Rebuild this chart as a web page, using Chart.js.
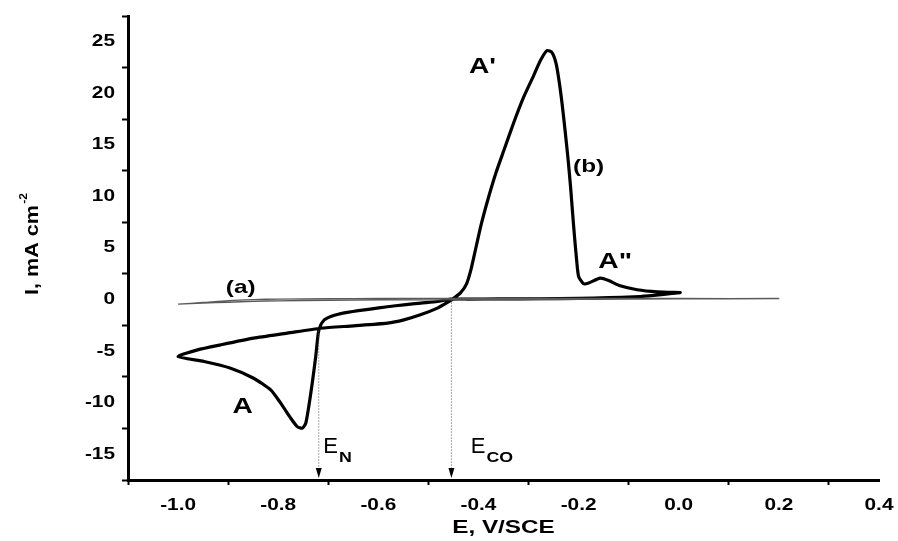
<!DOCTYPE html>
<html>
<head>
<meta charset="utf-8">
<script src="https://cdn.jsdelivr.net/npm/chart.js@4.4.1/dist/chart.umd.min.js"></script>
<style>
  html, body { margin: 0; padding: 0; background: #fff; }
  #wrap { width: 898px; height: 541px; }
</style>
</head>
<body>
<div id="wrap"><canvas id="cv" width="898" height="541"></canvas></div>
<script>
// Cyclic voltammogram: potential E (V vs SCE) and current density I (mA cm^-2)

// Curve (a): thin background scan, forward then reverse
const aE = [-1.0, -0.95, -0.9, -0.85, -0.8, -0.7, -0.6, -0.4, -0.2, 0.0, 0.2,
            0.0, -0.2, -0.4, -0.6, -0.7, -0.8, -0.85, -0.9, -0.95, -1.0];
const aI = [-0.44, -0.28, -0.1, 0.0, 0.05, 0.08, 0.1, 0.12, 0.12, 0.12, 0.1,
            0.06, 0.02, -0.01, -0.04, -0.07, -0.12, -0.17, -0.26, -0.35, -0.44];

// Curve (b): cathodic sweep from 0.0 V to -1.0 V, then anodic sweep back to 0.0 V
const bE = [0.003, -0.03, -0.06, -0.09, -0.14, -0.2, -0.28, -0.36, -0.42, -0.456,
            -0.482, -0.515, -0.549, -0.582, -0.616, -0.64, -0.662, -0.68, -0.695, -0.704,
            -0.709, -0.715, -0.72, -0.725, -0.732, -0.739, -0.745, -0.752, -0.762, -0.775,
            -0.795, -0.815, -0.849, -0.895, -0.948, -1.0,
            -0.961, -0.915, -0.849, -0.782, -0.715, -0.649, -0.582, -0.549, -0.516, -0.482,
            -0.462, -0.449, -0.436, -0.424, -0.415, -0.406, -0.395, -0.38, -0.365, -0.349,
            -0.33, -0.31, -0.29, -0.276, -0.263, -0.253, -0.245, -0.239, -0.233, -0.227,
            -0.221, -0.216, -0.212, -0.208, -0.204, -0.2, -0.19, -0.18, -0.157, -0.14,
            -0.117, -0.083, -0.043, 0.003];
const bI = [0.68, 0.5, 0.36, 0.26, 0.18, 0.12, 0.08, 0.06, 0.05, 0.04,
            -0.19, -0.34, -0.51, -0.7, -0.93, -1.08, -1.25, -1.42, -1.64, -1.85,
            -2.03, -2.45, -3.26, -5.5, -8.1, -10.4, -12.0, -12.48, -12.32, -11.5,
            -10.05, -8.76, -7.63, -6.66, -6.01, -5.53,
            -4.88, -4.39, -3.74, -3.26, -2.78, -2.55, -2.29, -1.97, -1.48, -0.83,
            -0.28, 0.14, 0.65, 1.5, 2.9, 4.83, 7.2, 9.9, 12.3, 14.5,
            17.1, 19.6, 21.7, 23.2, 24.15, 23.95, 22.9, 21.2, 19.0, 16.4,
            13.6, 10.9, 8.4, 6.0, 3.86, 2.24, 1.53, 1.6, 2.08, 1.85,
            1.33, 0.95, 0.75, 0.68];

// Axis ticks: marks on the odd steps, labels on the even ones
const xTicks = [-1.1, -1.0, -0.9, -0.8, -0.7, -0.6, -0.5, -0.4, -0.3, -0.2, -0.1, 0.0, 0.1, 0.2, 0.3, 0.4];
const xTickLabels = ['', '-1.0', '', '-0.8', '', '-0.6', '', '-0.4', '', '-0.2', '', '0.0', '', '0.2', '', '0.4'];
const yTicks = [-17.5, -15, -12.5, -10, -7.5, -5, -2.5, 0, 2.5, 5, 7.5, 10, 12.5, 15, 17.5, 20, 22.5, 25, 27.5];
const yTickLabels = ['', '-15', '', '-10', '', '-5', '', '0', '', '5', '', '10', '', '15', '', '20', '', '25', ''];

// Peak and curve labels
const noteText = ['(a)', '(b)', "A'", 'A"', 'A'];
const noteE = [-0.875, -0.18, -0.392, -0.127, -0.871];
const noteI = [1.17, 12.9, 22.6, 3.6, -10.4];
const noteSize = [19, 19, 22, 22, 22];

// Characteristic potentials marked by dotted arrows
const markE = [-0.72, -0.455];
const markStartI = [-3.0, 0.0];
const markSub = ['N', 'CO'];
const markLabelE = [-0.71, -0.4155];
const markLabelI = -14.9;

const FAMILY = "'Liberation Sans', Arial, sans-serif";
const bold = s => `bold ${s}px ${FAMILY}`;

function pts(xs, ys) { return xs.map((v, i) => ({ x: v, y: ys[i] })); }

function txt(ctx, s, x, y, font, sx, align, base) {
  ctx.save();
  ctx.font = font;
  ctx.textAlign = align;
  ctx.textBaseline = base;
  ctx.translate(x, y);
  ctx.scale(sx, 1);
  ctx.fillText(s, 0, 0);
  ctx.restore();
}

const notesPlugin = {
  id: 'cvNotes',
  afterDraw(chart) {
    const { ctx, chartArea: ca, scales: { x, y } } = chart;
    ctx.save();
    ctx.fillStyle = '#000';

    // tick labels
    x.ticks.forEach(t => {
      if (t.label) txt(ctx, t.label, x.getPixelForValue(t.value), ca.bottom + 26, bold(16), 1.3, 'center', 'middle');
    });
    y.ticks.forEach(t => {
      if (t.label) txt(ctx, t.label, ca.left - 13, y.getPixelForValue(t.value), bold(16), 1.3, 'right', 'middle');
    });

    // axis titles
    txt(ctx, 'E, V/SCE', (ca.left + ca.right) / 2, ca.bottom + 48, bold(18), 1.35, 'center', 'middle');
    ctx.save();
    ctx.translate(31.5, (ca.top + ca.bottom) / 2 - 4);
    ctx.rotate(-Math.PI / 2);
    ctx.scale(1.2, 1);
    ctx.font = bold(18);
    const main = 'I, mA cm';
    const w1 = ctx.measureText(main).width;
    ctx.font = bold(10);
    const w2 = ctx.measureText('-2').width;
    const start = -(w1 + w2 + 1) / 2;
    ctx.textAlign = 'left';
    ctx.textBaseline = 'alphabetic';
    ctx.font = bold(18);
    ctx.fillText(main, start, 6.5);
    ctx.font = bold(10);
    ctx.fillText('-2', start + w1 + 1, -4.5);
    ctx.restore();

    // curve and peak labels
    noteText.forEach((s, i) => {
      txt(ctx, s, x.getPixelForValue(noteE[i]), y.getPixelForValue(noteI[i]), bold(noteSize[i]), 1.28, 'center', 'middle');
    });

    // dotted arrows down to the potential axis
    markE.forEach((e, i) => {
      const px = x.getPixelForValue(e);
      const top = y.getPixelForValue(markStartI[i]);
      const tip = ca.bottom - 2;
      ctx.save();
      ctx.strokeStyle = '#555';
      ctx.lineWidth = 1;
      ctx.setLineDash([1, 2]);
      ctx.beginPath();
      ctx.moveTo(px + 0.5, top);
      ctx.lineTo(px + 0.5, tip - 8);
      ctx.stroke();
      ctx.restore();
      ctx.beginPath();
      ctx.moveTo(px + 0.5, tip);
      ctx.lineTo(px - 2.5, tip - 10);
      ctx.lineTo(px + 3.5, tip - 10);
      ctx.closePath();
      ctx.fill();

      const lx = x.getPixelForValue(markLabelE[i]);
      const ly = y.getPixelForValue(markLabelI);
      ctx.font = `22px ${FAMILY}`;
      ctx.textAlign = 'left';
      ctx.textBaseline = 'alphabetic';
      ctx.fillText('E', lx, ly);
      const wE = ctx.measureText('E').width;
      txt(ctx, markSub[i], lx + wE + 1, ly + 8.5, bold(14), 1.27, 'left', 'alphabetic');
    });
    ctx.restore();
  }
};

const isLabelledX = v => Math.round(v * 10) % 2 === 0;
const isLabelledY = v => Math.round(v * 2) % 2 === 0 && Math.abs(v) % 5 === 0;

new Chart(document.getElementById('cv'), {
  type: 'scatter',
  data: {
    datasets: [
      { label: '(a)', data: pts(aE, aI), showLine: true, pointRadius: 0, borderColor: '#5a5a5a', borderWidth: 1.3, tension: 0.2, fill: false },
      { label: '(b)', data: pts(bE, bI), showLine: true, pointRadius: 0, borderColor: '#000', borderWidth: 3.2, tension: 0.2, fill: false, borderJoinStyle: 'round', borderCapStyle: 'round' }
    ]
  },
  options: {
    responsive: false,
    animation: false,
    events: [],
    layout: { padding: { top: 16, right: 19, left: 0, bottom: 0 } },
    plugins: { legend: { display: false }, tooltip: { enabled: false }, title: { display: false } },
    scales: {
      x: {
        type: 'linear', min: -1.1, max: 0.4,
        afterBuildTicks(s) { s.ticks = xTicks.map(v => ({ value: v })); },
        afterFit(s) { s.height = 61; },
        ticks: { autoSkip: false, color: 'rgba(0,0,0,0)', font: { size: 16 },
                 callback: (v, i) => xTickLabels[xTicks.findIndex(t => Math.abs(t - v) < 1e-6)] || '' },
        grid: { display: true, drawOnChartArea: false, drawTicks: true, tickLength: 5, tickWidth: 2,
                tickColor: c => (c.tick && isLabelledX(c.tick.value)) ? 'rgba(0,0,0,0)' : '#000' },
        border: { display: true, color: '#000', width: 3 }
      },
      y: {
        type: 'linear', min: -17.5, max: 27.5,
        afterBuildTicks(s) { s.ticks = yTicks.map(v => ({ value: v })); },
        afterFit(s) { s.width = 128; },
        ticks: { autoSkip: false, color: 'rgba(0,0,0,0)', font: { size: 16 },
                 callback: (v, i) => yTickLabels[yTicks.findIndex(t => Math.abs(t - v) < 1e-6)] || '' },
        grid: { display: true, drawOnChartArea: false, drawTicks: true, tickLength: 6, tickWidth: 2,
                tickColor: c => (c.tick && isLabelledY(c.tick.value)) ? 'rgba(0,0,0,0)' : '#000' },
        border: { display: true, color: '#000', width: 3 }
      }
    }
  },
  plugins: [notesPlugin]
});
</script>
</body>
</html>
